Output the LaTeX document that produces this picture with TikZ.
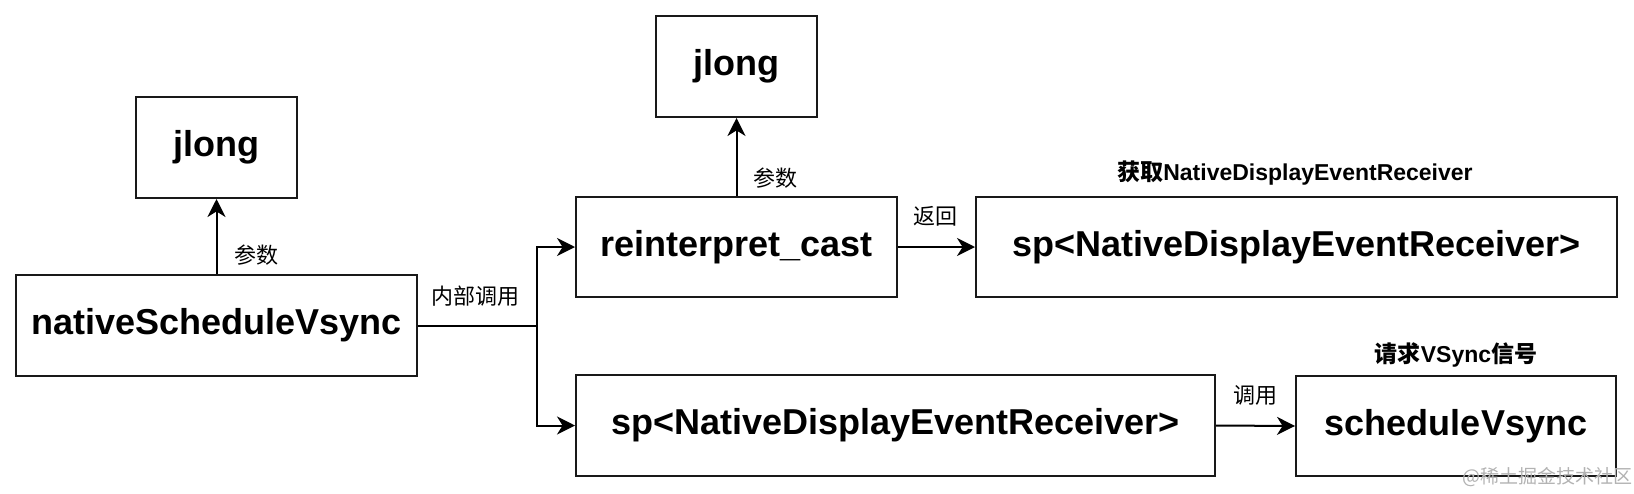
\documentclass[tikz,border=0pt]{standalone}
\usepackage{fontspec}
\setmainfont{Liberation Sans}
\newfontfamily\cjk{Noto Sans CJK SC}
\usepackage{tikz}
\usetikzlibrary{arrows.meta}

\begin{document}
\begin{tikzpicture}[x=0.5pt,y=-0.5pt,
  box/.style={draw=black!90,line width=1pt,inner sep=0pt,font=\fontsize{18}{22}\selectfont\bfseries},
  lbl/.style={font=\cjk\fontsize{11}{13}\selectfont},
  note/.style={font=\fontsize{11.5}{14}\selectfont\bfseries},
  conn/.style={draw=black,line width=1pt},
  arr/.style={conn,-{Stealth[length=9pt,width=9pt,inset=2.8pt]}}]
\useasboundingbox (0,0) rectangle (1634,493);
\node[box,minimum width=200.5pt,minimum height=50.5pt] (native) at (216.5,325.5) {nativeScheduleVsync};
\node[box,minimum width=80.5pt,minimum height=50.5pt] (jlongA) at (216.5,147.5) {jlong};
\node[box,minimum width=160.5pt,minimum height=50pt] (reinterpret) at (736.5,247) {reinterpret\_cast};
\node[box,minimum width=80.5pt,minimum height=50.5pt] (jlongB) at (736.5,66.5) {jlong};
\node[box,minimum width=320.5pt,minimum height=50pt] (receiver) at (1296.5,247) {sp<NativeDisplayEventReceiver>};
\node[box,minimum width=319.5pt,minimum height=50.5pt] (receiverB) at (895.5,425.5) {sp<NativeDisplayEventReceiver>};
\node[box,minimum width=160pt,minimum height=50pt] (schedule) at (1456,426) {scheduleVsync};
\node[lbl] (paramA) at (256,255) {参数};
\node[lbl] (paramB) at (775,178) {参数};
\node[lbl] (inner) at (475,296) {内部调用};
\node[lbl] (ret) at (935,216) {返回};
\node[lbl] (call) at (1255,395) {调用};
\node[note] (getrecv) at (1295,173) {{\cjk 获取}NativeDisplayEventReceiver};
\node[note] (request) at (1456,355) {{\cjk 请求}VSync{\cjk 信号}};
\node[font=\cjk\fontsize{9.5}{12}\selectfont,text=black!30] (mark) at (1547,477) {@稀土掘金技术社区};
\path (native.east) ++(119,0) coordinate (split);
\draw[arr] (native.north) -- (jlongA.south);
\draw[conn] (native.east) -- (split);
\draw[arr] (split) |- (reinterpret.west);
\draw[arr] (split) |- (receiverB.west);
\draw[arr] (reinterpret.north) -- (jlongB.south);
\draw[arr] (reinterpret.east) -- (receiver.west);
\draw[arr] (receiverB.east) -- (schedule.west);
\end{tikzpicture}
\end{document}
